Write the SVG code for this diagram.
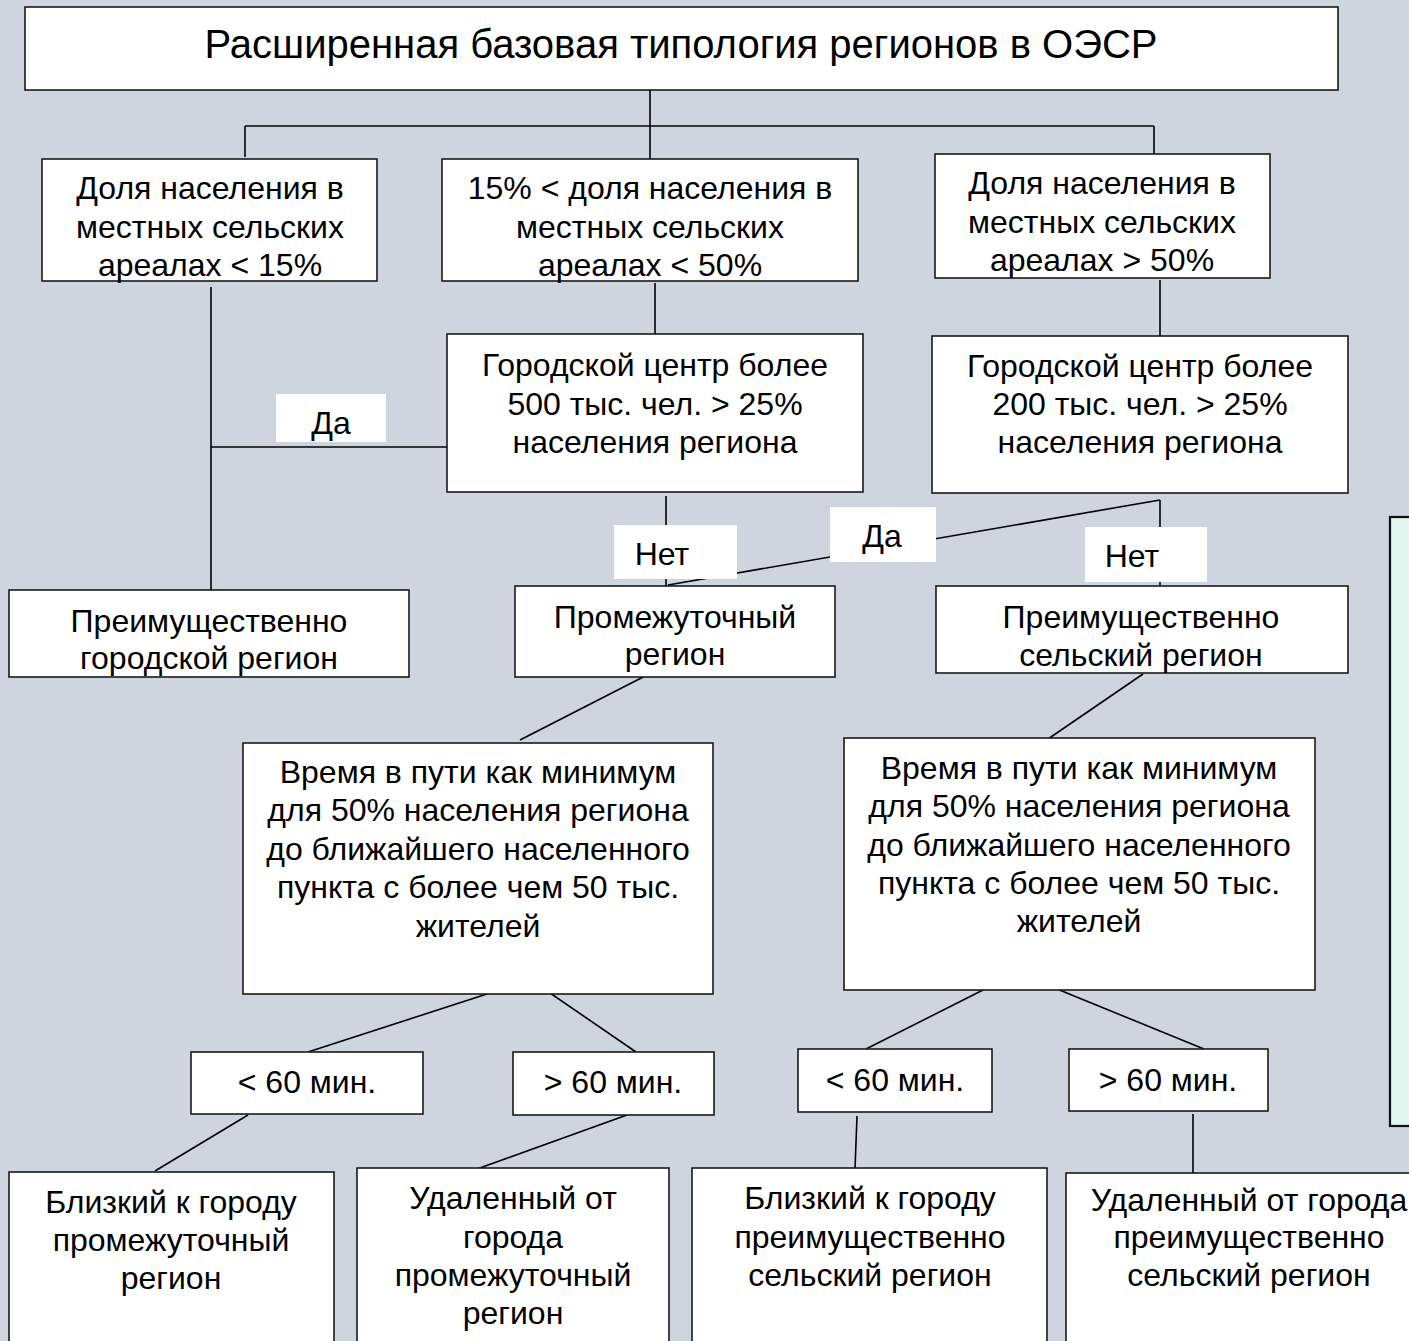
<svg xmlns="http://www.w3.org/2000/svg" width="1409" height="1341" viewBox="0 0 1409 1341">
<style>
.box{fill:#ffffff;stroke:#1a1a1a;stroke-width:1.6}
.green{fill:#e0f6ef;stroke:#111111;stroke-width:2.2}
.lbl{fill:#ffffff;stroke:none}
.t{font-family:"Liberation Sans",Arial,sans-serif;font-size:32px;fill:#000000;text-anchor:middle}
.title{font-size:40px}
.c line{stroke:#000000;stroke-width:1.6;fill:none}
</style>
<rect x="0" y="0" width="1409" height="1341" fill="#ced5df"/>

<g id="connectors" class="c">
<line x1="650" y1="90" x2="650" y2="159"/>
<line x1="245" y1="126" x2="1154" y2="126"/>
<line x1="245" y1="126" x2="245" y2="157"/>
<line x1="1154" y1="126" x2="1154" y2="154"/>
<line x1="211" y1="287" x2="211" y2="590"/>
<line x1="211" y1="447" x2="447" y2="447"/>
<line x1="655" y1="283" x2="655" y2="334"/>
<line x1="1160" y1="280" x2="1160" y2="336"/>
<line x1="666" y1="496" x2="666" y2="586"/>
<line x1="1160" y1="500" x2="668" y2="585"/>
<line x1="1160" y1="500" x2="1160" y2="586"/>
<line x1="649" y1="674" x2="520" y2="740"/>
<line x1="1143" y1="674" x2="1048" y2="739"/>
<line x1="490" y1="993" x2="308" y2="1052"/>
<line x1="550" y1="993" x2="636" y2="1052"/>
<line x1="985" y1="989" x2="866" y2="1049"/>
<line x1="1057" y1="989" x2="1204" y2="1049"/>
<line x1="248" y1="1115" x2="155" y2="1171"/>
<line x1="627" y1="1115" x2="477" y2="1169"/>
<line x1="857" y1="1116" x2="855" y2="1169"/>
<line x1="1193" y1="1114" x2="1193" y2="1174"/>
</g>

<g id="label-da-left"><rect class="lbl" x="276" y="394" width="110" height="48"/><text class="t" x="331" y="434">Да</text></g>
<g id="label-net-mid"><rect class="lbl" x="614" y="525" width="123" height="54"/><text class="t" x="662" y="565">Нет</text></g>
<g id="label-da-right"><rect class="lbl" x="830" y="507" width="106" height="55"/><text class="t" x="882" y="547">Да</text></g>
<g id="label-net-right"><rect class="lbl" x="1085" y="527" width="122" height="55"/><text class="t" x="1132" y="567">Нет</text></g>

<g id="n-title"><rect class="box" x="25" y="7" width="1313" height="83"/><text class="t title" x="681" y="58">Расширенная базовая типология регионов в ОЭСР</text></g>

<g id="n-share15"><rect class="box" x="42" y="159" width="335" height="122"/>
<text class="t" x="210" y="199">Доля населения в</text><text class="t" x="210" y="238">местных сельских</text><text class="t" x="210" y="276">ареалах &lt; 15%</text></g>

<g id="n-share15-50"><rect class="box" x="442" y="159" width="416" height="122"/>
<text class="t" x="650" y="199">15% &lt; доля населения в</text><text class="t" x="650" y="238">местных сельских</text><text class="t" x="650" y="276">ареалах &lt; 50%</text></g>

<g id="n-share50"><rect class="box" x="935" y="154" width="335" height="124"/>
<text class="t" x="1102" y="194">Доля населения в</text><text class="t" x="1102" y="233">местных сельских</text><text class="t" x="1102" y="271">ареалах &gt; 50%</text></g>

<g id="n-center500"><rect class="box" x="447" y="334" width="416" height="158"/>
<text class="t" x="655" y="376">Городской центр более</text><text class="t" x="655" y="415">500 тыс. чел. &gt; 25%</text><text class="t" x="655" y="453">населения региона</text></g>

<g id="n-center200"><rect class="box" x="932" y="336" width="416" height="157"/>
<text class="t" x="1140" y="377">Городской центр более</text><text class="t" x="1140" y="415">200 тыс. чел. &gt; 25%</text><text class="t" x="1140" y="453">населения региона</text></g>

<g id="n-urban"><rect class="box" x="9" y="590" width="400" height="87"/>
<text class="t" x="209" y="632">Преимущественно</text><text class="t" x="209" y="669">городской регион</text></g>

<g id="n-intermediate"><rect class="box" x="515" y="586" width="320" height="91"/>
<text class="t" x="675" y="628">Промежуточный</text><text class="t" x="675" y="665">регион</text></g>

<g id="n-rural"><rect class="box" x="936" y="586" width="412" height="87"/>
<text class="t" x="1141" y="628">Преимущественно</text><text class="t" x="1141" y="666">сельский регион</text></g>

<g id="n-time-left"><rect class="box" x="243" y="743" width="470" height="251"/>
<text class="t" x="478" y="783">Время в пути как минимум</text><text class="t" x="478" y="821">для 50% населения региона</text><text class="t" x="478" y="860">до ближайшего населенного</text><text class="t" x="478" y="898">пункта с более чем 50 тыс.</text><text class="t" x="478" y="937">жителей</text></g>

<g id="n-time-right"><rect class="box" x="844" y="738" width="471" height="252"/>
<text class="t" x="1079" y="779">Время в пути как минимум</text><text class="t" x="1079" y="817">для 50% населения региона</text><text class="t" x="1079" y="856">до ближайшего населенного</text><text class="t" x="1079" y="894">пункта с более чем 50 тыс.</text><text class="t" x="1079" y="932">жителей</text></g>

<g id="n-lt60-left"><rect class="box" x="191" y="1052" width="232" height="62"/><text class="t" x="307" y="1093">&lt; 60 мин.</text></g>
<g id="n-gt60-left"><rect class="box" x="513" y="1052" width="201" height="63"/><text class="t" x="613" y="1093">&gt; 60 мин.</text></g>
<g id="n-lt60-right"><rect class="box" x="798" y="1049" width="194" height="63"/><text class="t" x="895" y="1091">&lt; 60 мин.</text></g>
<g id="n-gt60-right"><rect class="box" x="1069" y="1049" width="199" height="62"/><text class="t" x="1168" y="1091">&gt; 60 мин.</text></g>

<g id="n-green"><rect class="green" x="1390" y="517" width="40" height="609"/></g>

<g id="n-close-intermediate"><rect class="box" x="9" y="1172" width="325" height="190"/>
<text class="t" x="171" y="1213">Близкий к городу</text><text class="t" x="171" y="1251">промежуточный</text><text class="t" x="171" y="1289">регион</text></g>

<g id="n-remote-intermediate"><rect class="box" x="357" y="1168" width="312" height="190"/>
<text class="t" x="513" y="1209">Удаленный от</text><text class="t" x="513" y="1248">города</text><text class="t" x="513" y="1286">промежуточный</text><text class="t" x="513" y="1324">регион</text></g>

<g id="n-close-rural"><rect class="box" x="692" y="1168" width="355" height="190"/>
<text class="t" x="870" y="1209">Близкий к городу</text><text class="t" x="870" y="1248">преимущественно</text><text class="t" x="870" y="1286">сельский регион</text></g>

<g id="n-remote-rural"><rect class="box" x="1066" y="1173" width="366" height="190"/>
<text class="t" x="1249" y="1211">Удаленный от города</text><text class="t" x="1249" y="1248">преимущественно</text><text class="t" x="1249" y="1286">сельский регион</text></g>
</svg>
